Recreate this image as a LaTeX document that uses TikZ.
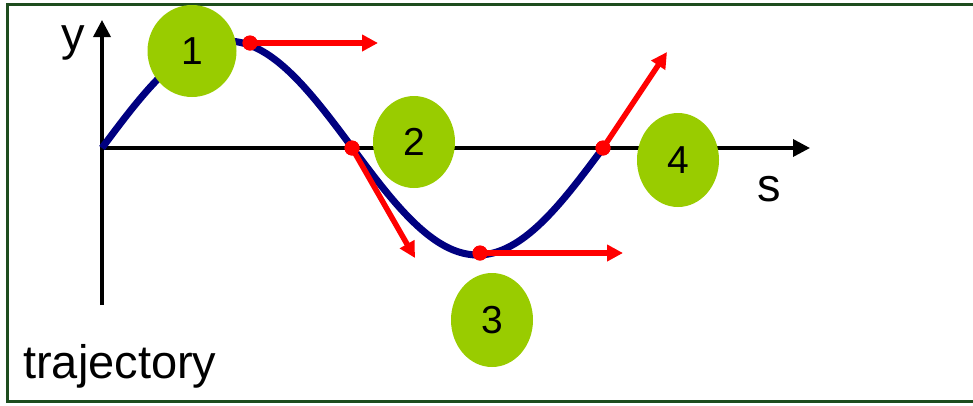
\documentclass[tikz,border=0pt]{standalone}
\usepackage{fontspec}
\setmainfont{Liberation Sans}
\usetikzlibrary{shapes.geometric,arrows.meta}
\definecolor{bordergreen}{HTML}{1E4D1E}
\definecolor{blobgreen}{HTML}{99CC00}
\definecolor{curvenavy}{HTML}{000080}
\begin{document}
\begin{tikzpicture}[x=1pt,y=-1pt,
  axis/.style={line width=3.5pt,-{Triangle[length=17pt,width=17pt]}},
  vec/.style={red,line width=5.5pt,-{Triangle[length=16pt,width=16pt]}},
  dotnode/.style={circle,fill=red,inner sep=0pt,minimum size=15pt},
  blob/.style={ellipse,fill=blobgreen,inner sep=0pt,font=\fontsize{39}{39}\selectfont},
  lbl/.style={font=\fontsize{47}{47}\selectfont,inner sep=0pt}]
\useasboundingbox (0,0) rectangle (973,405);
% frame
\draw[bordergreen,line width=3pt] (980,4.5) -- (7.5,4.5) -- (7.5,401) -- (980,401);
% axes
\coordinate (O) at (102,148);
\coordinate (ybot) at (102,305);
\coordinate (ytip) at (102,20);
\coordinate (xtip) at (810,148);
\draw[axis] (ybot) -- (ytip);
\draw[axis] (O) -- (xtip);
% curve
\draw[curvenavy,line width=7pt] plot[domain=0:2,samples=120,smooth] ({102+250.5*\x},{148-107*sin(180*\x)});
% green blobs
\node[blob,minimum width=89pt,minimum height=92pt] (e1) at (192,51) {1};
\node[blob,minimum width=82pt,minimum height=92pt] (e2) at (414,142) {2};
\node[blob,minimum width=82pt,minimum height=94pt] (e3) at (492,320) {3};
\node[blob,minimum width=82pt,minimum height=94pt] (e4) at (678,160) {4};
% velocity vectors
\node[dotnode] (d1) at (250,43) {};
\node[dotnode] (d2) at (352,148) {};
\node[dotnode] (d3) at (480,253) {};
\node[dotnode] (d4) at (603,148) {};
\coordinate (t1) at (378,43);
\coordinate (t2) at (415,258);
\coordinate (t3) at (623,253);
\coordinate (t4) at (667,52);
\draw[vec] (d1.center) -- (t1);
\draw[vec] (d2.center) -- (t2);
\draw[vec] (d3.center) -- (t3);
\draw[vec] (d4.center) -- (t4);
\node[dotnode] at (d1) {};
\node[dotnode] at (d2) {};
\node[dotnode] at (d3) {};
\node[dotnode] at (d4) {};
% labels
\node[lbl,anchor=base] (ylab) at (73,50) {y};
\node[lbl,anchor=base] (slab) at (769,201) {s};
\node[lbl,anchor=base west] (traj) at (23,378) {trajectory};
\end{tikzpicture}
\end{document}
